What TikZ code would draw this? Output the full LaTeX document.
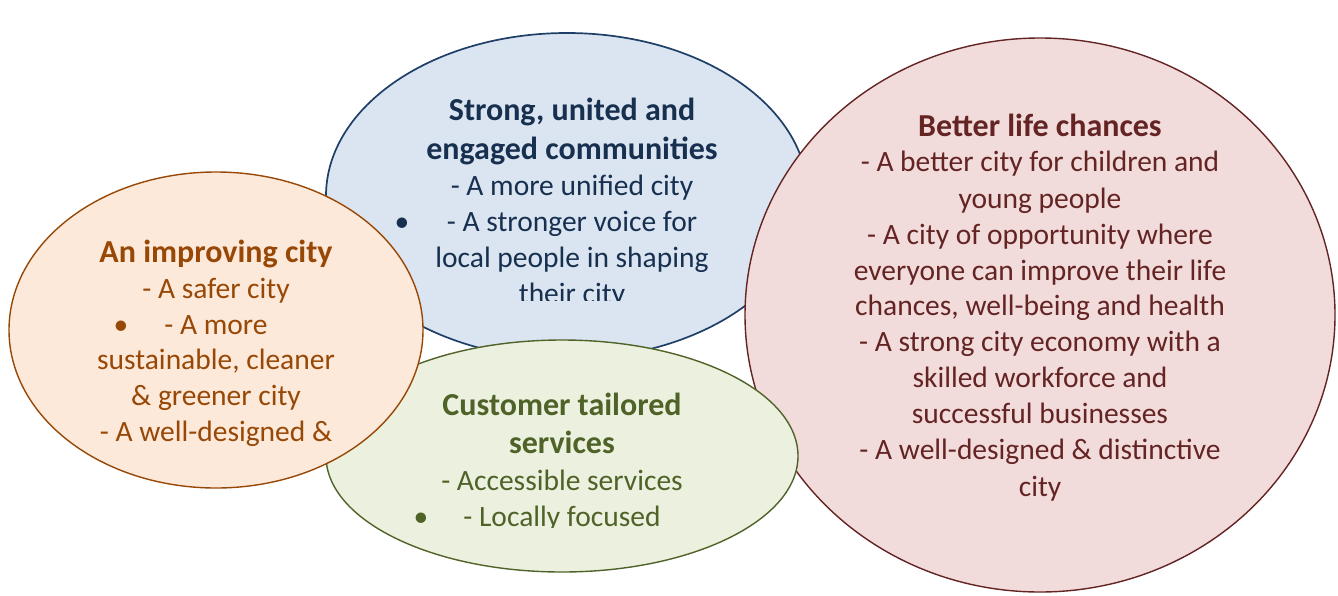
\documentclass[tikz,border=0pt]{standalone}
\usepackage{fontspec}
\setmainfont{Carlito}
\definecolor{bluefill}{HTML}{DBE5F1}
\definecolor{blueline}{HTML}{1F3F66}
\definecolor{bluetext}{HTML}{17304F}
\definecolor{orfill}{HTML}{FDE9D9}
\definecolor{orline}{HTML}{984806}
\definecolor{grfill}{HTML}{EBF1DE}
\definecolor{grline}{HTML}{4F6228}
\definecolor{rdfill}{HTML}{F2DCDB}
\definecolor{rdline}{HTML}{632423}
\tikzset{
  bubble/.style={line width=1.4pt},
  body/.style={inner sep=0pt, anchor=base, font=\fontsize{29.5}{35}\selectfont},
  head/.style={inner sep=0pt, anchor=base, font=\fontsize{32}{38}\selectfont\bfseries},
  dot/.style={inner sep=0pt, anchor=base, font=\fontsize{29.5}{35}\selectfont},
}
\begin{document}
\begin{tikzpicture}[x=1pt,y=-1pt]
\useasboundingbox (0,0) rectangle (1338,595);
% blue bubble
\draw[bubble, line width=1.7pt, draw=blueline, fill=bluefill] (567,196) ellipse [x radius=241, y radius=163];
\begin{scope}
\clip (330,60) rectangle (800,300);
\begin{scope}[every node/.append style={text=bluetext}]
\node[head] (b1) at (572,120) {Strong, united and};
\node[head] (b2) at (572,159) {engaged communities};
\node[body] (b3) at (572,195) {- A more unified city};
\node[dot]  (b4) at (402,231) {•};
\node[body] (b5) at (572,231) {- A stronger voice for};
\node[body] (b6) at (572,267) {local people in shaping};
\node[body] (b7) at (572,303) {their city};
\end{scope}
\end{scope}
% red bubble
\draw[bubble, draw=rdline, fill=rdfill] (1040,315) ellipse [x radius=295, y radius=277];
\begin{scope}[every node/.append style={text=rdline}]
\node[head] (r1) at (1040,136) {Better life chances};
\node[body] (r2) at (1040,171) {- A better city for children and};
\node[body] (r3) at (1040,208) {young people};
\node[body] (r4) at (1040,244) {- A city of opportunity where};
\node[body] (r5) at (1040,280) {everyone can improve their life};
\node[body] (r6) at (1040,315) {chances, well-being and health};
\node[body] (r7) at (1040,351) {- A strong city economy with a};
\node[body] (r8) at (1040,387) {skilled workforce and};
\node[body] (r9) at (1040,423) {successful businesses};
\node[body] (r10) at (1040,459) {- A well-designed \& distinctive};
\node[body] (r11) at (1040,496) {city};
\end{scope}
% green bubble
\draw[bubble, draw=grline, fill=grfill] (562,456) ellipse [x radius=236, y radius=116];
\begin{scope}
\clip (340,370) rectangle (790,527);
\begin{scope}[every node/.append style={text=grline}]
\node[head] (g1) at (562,415) {Customer tailored};
\node[head] (g2) at (562,453) {services};
\node[body] (g3) at (562,490) {- Accessible services};
\node[dot]  (g4) at (421,526) {•};
\node[body] (g5) at (562,526) {- Locally focused};
\end{scope}
\end{scope}
% orange bubble
\draw[bubble, draw=orline, fill=orfill] (216,330) ellipse [x radius=207, y radius=158];
\begin{scope}
\clip (20,200) rectangle (415,450);
\begin{scope}[every node/.append style={text=orline}]
\node[head] (o1) at (216,262) {An improving city};
\node[body] (o2) at (216,298) {- A safer city};
\node[dot]  (o3) at (121,334) {•};
\node[body] (o4) at (216,334) {- A more};
\node[body] (o5) at (216,369) {sustainable, cleaner};
\node[body] (o6) at (216,405) {\& greener city};
\node[body] (o7) at (216,441) {- A well-designed \&};
\end{scope}
\end{scope}
\end{tikzpicture}
\end{document}
